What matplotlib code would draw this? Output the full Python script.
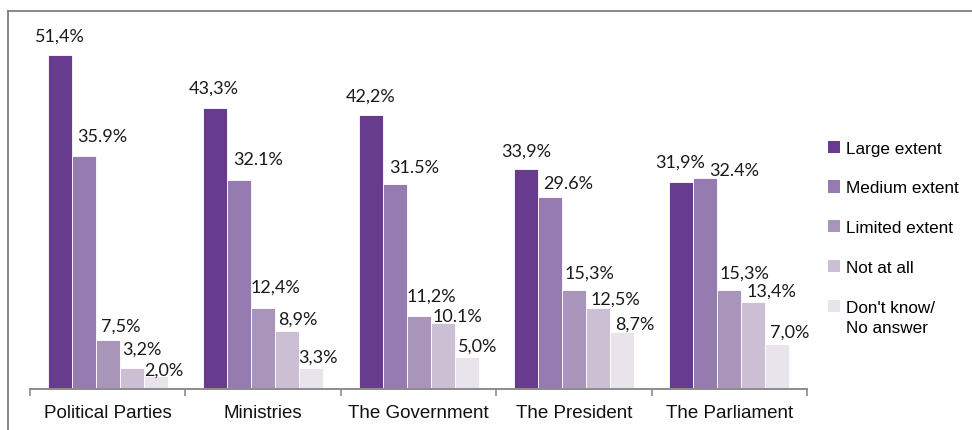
import matplotlib
matplotlib.use("Agg")
import matplotlib.pyplot as plt
from matplotlib.lines import Line2D
from matplotlib.patches import Patch
import numpy as np

# Institutions (x-axis groups)
categories = ["Political Parties", "Ministries", "The Government", "The President", "The Parliament"]

# Answer categories (legend)
series_names = ["Large extent", "Medium extent", "Limited extent", "Not at all", "Don't know/"]
legend_extra_line = "No answer"

# Percentages per answer category, one value per institution
large_extent = [51.4, 43.3, 42.2, 33.9, 31.9]
medium_extent = [35.9, 32.1, 31.5, 29.6, 32.4]
limited_extent = [7.5, 12.4, 11.2, 15.3, 15.3]
not_at_all = [3.2, 8.9, 10.1, 12.5, 13.4]
dont_know = [2.0, 3.3, 5.0, 8.7, 7.0]

# Value labels as printed (mixed decimal separators)
labels_large = ["51,4%", "43,3%", "42,2%", "33,9%", "31,9%"]
labels_medium = ["35.9%", "32.1%", "31.5%", "29.6%", "32.4%"]
labels_limited = ["7,5%", "12,4%", "11,2%", "15,3%", "15,3%"]
labels_not = ["3,2%", "8,9%", "10.1%", "12,5%", "13,4%"]
labels_dk = ["2,0%", "3,3%", "5,0%", "8,7%", "7,0%"]

series = [large_extent, medium_extent, limited_extent, not_at_all, dont_know]
series_labels = [labels_large, labels_medium, labels_limited, labels_not, labels_dk]
colors = ["#673C8E", "#957BB0", "#A895B9", "#CCBFD3", "#E9E3EC"]

# Label placement nudges in pixels (series x group): horizontal shift, gap above bar
label_dx = [[0, -1, 0, 0, -1],
            [19, 19, 20, 18, 29],
            [13, 12, 13, 16, 15],
            [10, 11, 15, 17, 18],
            [8, 7, 11, 13, 12]]
label_dy = [[14, 15, 14, 13, 15],
            [15, 16, 12, 9, 3],
            [10, 17, 16, 12, 12],
            [15, 8, 2, 4, 6],
            [1, 6, 6, 4, 7]]

W, H = 972, 431
dpi = 100
px = 72 / dpi
fig = plt.figure(figsize=(W / dpi, H / dpi), dpi=dpi)

# Plot area in pixel units
left_px, right_px, base_px, top_px = 30, 807, 390, 12
ax = fig.add_axes([left_px / W, (H - base_px) / H,
                   (right_px - left_px) / W, (base_px - top_px) / H])

n = len(categories)
x = np.arange(n)
bw = 24 / 155.4
label_font = ["Lato", "DejaVu Sans"]

for i, (vals, labs, col) in enumerate(zip(series, series_labels, colors)):
    xs = x + (i - 2) * bw
    ax.bar(xs, vals, width=bw, color=col, edgecolor="white", linewidth=0.6)
    for j, (xi, v, lab) in enumerate(zip(xs, vals, labs)):
        ax.annotate(lab, (xi, v),
                    xytext=(label_dx[i][j] * px, label_dy[i][j] * px),
                    textcoords="offset points", ha="center", va="baseline",
                    fontsize=13, family=label_font, color="#1a1a1a")

ax.set_xlim(-0.5, n - 0.5)
ax.set_ylim(0, (base_px - top_px) / 6.5)

for s in ["top", "right", "left"]:
    ax.spines[s].set_visible(False)
ax.spines["bottom"].set_color("#8c8c8c")
ax.spines["bottom"].set_linewidth(1.4)
ax.set_yticks([])

ax.set_xticks(np.arange(n + 1) - 0.5)
ax.set_xticklabels([])
ax.tick_params(axis="x", length=5, width=1.2, color="#8c8c8c", direction="out")
ax.set_xticks(x, minor=True)
ax.set_xticklabels(categories, minor=True, fontsize=13.5, family="Liberation Sans", color="#111111")
ax.tick_params(axis="x", which="minor", length=0, pad=11)

# Legend
handles = [Patch(facecolor=c, edgecolor="none") for c in colors]
leg = fig.legend(handles, series_names, loc="upper left",
                 bbox_to_anchor=(819 / W, 1 - 133 / H), frameon=False,
                 prop={"family": "Liberation Sans", "size": 12.3},
                 handlelength=0.72, handleheight=0.72, handletextpad=0.35,
                 labelspacing=1.45, borderpad=0)
last_text = leg.get_texts()[-1]
fig.add_artist(plt.Annotation(legend_extra_line, xy=(0, 0), xycoords=last_text,
                              xytext=(0, -3.5), textcoords="offset points",
                              ha="left", va="top", zorder=10,
                              family="Liberation Sans", fontsize=12.3))

# Outer frame (top and left edges)
fig.add_artist(Line2D([8 / W, 1], [1 - 12 / H, 1 - 12 / H], transform=fig.transFigure,
                      color="#7f7f7f", linewidth=1.3))
fig.add_artist(Line2D([8 / W, 8 / W], [0, 1 - 12 / H], transform=fig.transFigure,
                      color="#7f7f7f", linewidth=1.3))

fig.savefig("out.png", dpi=dpi, facecolor="white")
